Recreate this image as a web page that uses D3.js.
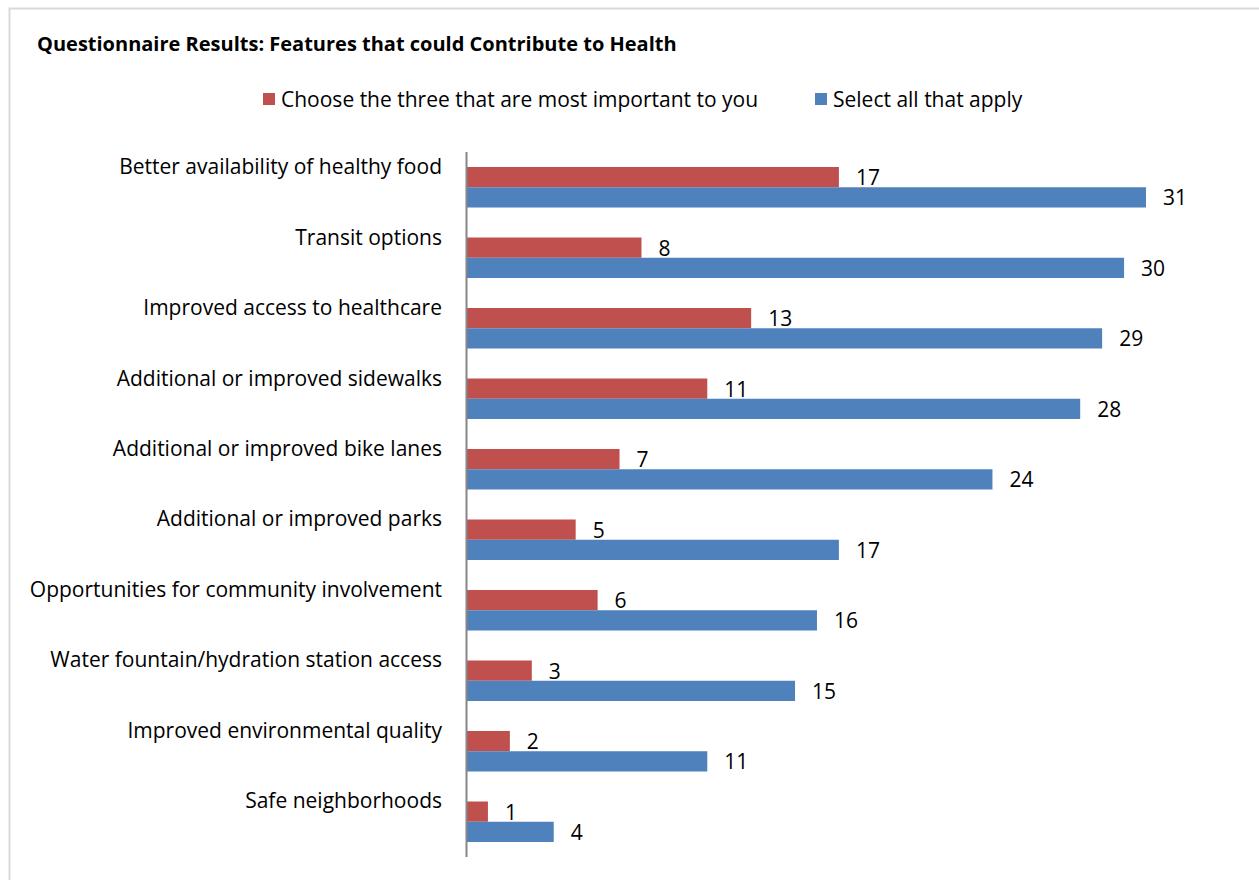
<!DOCTYPE html>
<html>
<head>
<meta charset="utf-8">
<script src="https://cdn.jsdelivr.net/npm/d3@7"></script>
<style>
  body { margin: 0; background: #fff; }
  svg text { font-family: "Open Sans", "Liberation Sans", sans-serif; fill: #000; }
</style>
</head>
<body>
<div id="chart"></div>
<script>
const categories = [
    "Better availability of healthy food",
    "Transit options",
    "Improved access to healthcare",
    "Additional or improved sidewalks",
    "Additional or improved bike lanes",
    "Additional or improved parks",
    "Opportunities for community involvement",
    "Water fountain/hydration station access",
    "Improved environmental quality",
    "Safe neighborhoods"
];
const topThree = [17, 8, 13, 11, 7, 5, 6, 3, 2, 1];
const selectAll = [31, 30, 29, 28, 24, 17, 16, 15, 11, 4];
const seriesNames = ["Choose the three that are most important to you", "Select all that apply"];
const colors = ["#C0504D", "#4F81BD"];

const svg = d3.select("#chart").append("svg")
    .attr("width", 1259)
    .attr("height", 880);

// chart frame
svg.append("rect")
    .attr("x", 9.5).attr("y", 8.5)
    .attr("width", 1270).attr("height", 900)
    .attr("fill", "#fff")
    .attr("stroke", "#d9d9d9")
    .attr("stroke-width", 2);

svg.append("text")
    .attr("x", 37).attr("y", 51)
    .style("font-size", "20px")
    .style("font-weight", "bold")
    .text("Questionnaire Results: Features that could Contribute to Health");

const margin = {top: 152, left: 466};
const width = 680;
const height = 705;
const g = svg.append("g").attr("transform", "translate(" + margin.left + "," + margin.top + ")");

const x = d3.scaleLinear().domain([0, 31]).range([0, width]);
const y = d3.scaleBand().domain(categories).range([0, height]).paddingInner(0.4255).paddingOuter(0.2128);
const sub = d3.scaleBand().domain([0, 1]).range([0, y.bandwidth()]);

const rows = categories.map((c, i) => ({cat: c, vals: [topThree[i], selectAll[i]]}));

const row = g.selectAll("g.row")
    .data(rows)
    .enter().append("g")
    .attr("class", "row")
    .attr("transform", d => "translate(0," + y(d.cat) + ")");

row.selectAll("rect")
    .data(d => d.vals)
    .enter().append("rect")
    .attr("x", 0)
    .attr("y", (d, i) => sub(i))
    .attr("width", d => x(d))
    .attr("height", sub.bandwidth())
    .attr("fill", (d, i) => colors[i]);

row.selectAll("text.val")
    .data(d => d.vals)
    .enter().append("text")
    .attr("class", "val")
    .attr("x", d => x(d) + 17)
    .attr("y", (d, i) => sub(i) + sub.bandwidth() / 2 + 8)
    .style("font-size", "21px")
    .text(d => d);

row.append("text")
    .attr("x", -24)
    .attr("y", 7)
    .attr("text-anchor", "end")
    .style("font-size", "21px")
    .text(d => d.cat);

g.append("line")
    .attr("x1", 0.5).attr("x2", 0.5)
    .attr("y1", 0).attr("y2", height)
    .attr("stroke", "#868686")
    .attr("stroke-width", 2);

// legend
const legendX = [263, 815];
const legend = svg.selectAll("g.legend")
    .data(seriesNames)
    .enter().append("g")
    .attr("class", "legend")
    .attr("transform", (d, i) => "translate(" + legendX[i] + ",93)");

legend.append("rect")
    .attr("width", 12).attr("height", 12)
    .attr("fill", (d, i) => colors[i]);

legend.append("text")
    .attr("x", 18).attr("y", 14)
    .style("font-size", "21px")
    .text(d => d);
</script>
</body>
</html>
